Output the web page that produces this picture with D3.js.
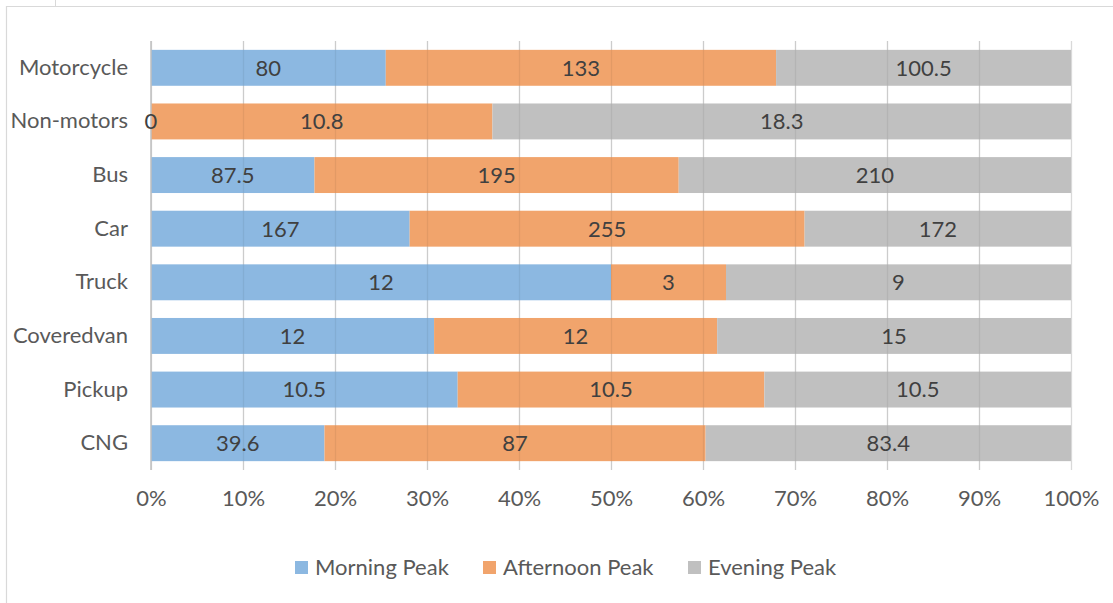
<!DOCTYPE html>
<html>
<head>
<meta charset="utf-8">
<script src="https://cdn.jsdelivr.net/npm/d3@7"></script>
<style>
  html, body { margin: 0; padding: 0; background: #fff; }
  svg { display: block; }
  text { font-family: Lato, "Open Sans", sans-serif; }
</style>
</head>
<body>
<svg id="chart" width="1113" height="603"></svg>
<script>
// Vehicle counts by time of day, shown as a 100% stacked bar chart
const categories = ["Motorcycle", "Non-motors", "Bus", "Car", "Truck", "Coveredvan", "Pickup", "CNG"];
const seriesNames = ["Morning Peak", "Afternoon Peak", "Evening Peak"];
const morning   = [80, 0, 87.5, 167, 12, 12, 10.5, 39.6];
const afternoon = [133, 10.8, 195, 255, 3, 12, 10.5, 87];
const evening   = [100.5, 18.3, 210, 172, 9, 15, 10.5, 83.4];
const tickValues = [0, 0.1, 0.2, 0.3, 0.4, 0.5, 0.6, 0.7, 0.8, 0.9, 1.0];
const colors = ["#8cb8e1", "#f1a46c", "#c0c0c0"];

const FONT = 22;
const svg = d3.select("#chart");

// outer chart frame
svg.append("path")
  .attr("d", "M6.5,603 V6.5 H1113")
  .attr("fill", "none").attr("stroke", "#d9d9d9").attr("stroke-width", 1.2);
svg.append("line")
  .attr("x1", 55.5).attr("x2", 55.5).attr("y1", 0).attr("y2", 6)
  .attr("stroke", "#d9d9d9");

const plot = { left: 151, right: 1071, top: 41, bottom: 470 };

const rows = categories.map((c, i) => {
  const vals = [morning[i], afternoon[i], evening[i]];
  const total = d3.sum(vals);
  return { category: c, vals, total };
});

const x = d3.scaleLinear().domain([0, 1]).range([plot.left, plot.right]);
const y = d3.scaleBand().domain(categories).range([plot.top, plot.bottom]).paddingInner(0.33).paddingOuter(0.165);

const stack = d3.stack().keys([0, 1, 2])
  .value((d, k) => d.vals[k] / d.total);
const layers = stack(rows);

// gridlines behind bars
svg.append("g").selectAll("line").data(tickValues).join("line")
  .attr("x1", d => x(d) + 0.5).attr("x2", d => x(d) + 0.5)
  .attr("y1", plot.top).attr("y2", plot.bottom)
  .attr("stroke", "#d9d9d9").attr("stroke-width", 1.3);

// bars
const bars = svg.append("g");
layers.forEach((layer, k) => {
  bars.selectAll(null).data(layer).join("rect")
    .attr("x", d => x(d[0]))
    .attr("y", d => y(d.data.category))
    .attr("width", d => x(d[1]) - x(d[0]))
    .attr("height", y.bandwidth())
    .attr("fill", colors[k]);
});

// faint gridlines showing through the bars
svg.append("g").selectAll("line").data(tickValues.slice(1, -1)).join("line")
  .attr("x1", d => x(d) + 0.5).attr("x2", d => x(d) + 0.5)
  .attr("y1", plot.top).attr("y2", plot.bottom)
  .attr("stroke", "#000").attr("stroke-opacity", 0.06).attr("stroke-width", 1.3);

// left axis line
svg.append("line")
  .attr("x1", plot.left).attr("x2", plot.left)
  .attr("y1", plot.top).attr("y2", plot.bottom)
  .attr("stroke", "#bfbfbf").attr("stroke-width", 1.5);

// value labels centred in each segment
const labels = svg.append("g");
layers.forEach((layer, k) => {
  labels.selectAll(null).data(layer).join("text")
    .attr("x", d => (x(d[0]) + x(d[1])) / 2)
    .attr("y", d => y(d.data.category) + y.bandwidth() / 2)
    .attr("dy", "0.36em")
    .attr("text-anchor", "middle")
    .attr("font-size", FONT)
    .attr("fill", "#404040")
    .text(d => d.data.vals[k]);
});

// category axis
const yAxis = d3.axisLeft(y).tickSize(0).tickPadding(23);
const ya = svg.append("g").attr("transform", `translate(${plot.left},0)`).call(yAxis);
ya.select(".domain").remove();
ya.selectAll("text").attr("font-size", FONT).attr("fill", "#595959")
  .attr("font-family", "Lato, 'Open Sans', sans-serif");

// percentage axis
const xAxis = d3.axisBottom(x).tickValues(tickValues).tickFormat(d3.format(".0%")).tickSize(0).tickPadding(20);
const xa = svg.append("g").attr("transform", `translate(0,${plot.bottom})`).call(xAxis);
xa.select(".domain").remove();
xa.selectAll("text").attr("font-size", FONT).attr("fill", "#595959")
  .attr("font-family", "Lato, 'Open Sans', sans-serif");

// legend
const legendX = [295, 483, 688];
const legend = svg.append("g");
seriesNames.forEach((name, k) => {
  const g = legend.append("g").attr("transform", `translate(${legendX[k]},567)`);
  g.append("rect").attr("x", 0).attr("y", -6).attr("width", 13).attr("height", 13).attr("fill", colors[k]);
  g.append("text").attr("x", 20).attr("y", 0).attr("dy", "0.36em")
    .attr("font-size", FONT).attr("fill", "#595959").text(name);
});
</script>
</body>
</html>
